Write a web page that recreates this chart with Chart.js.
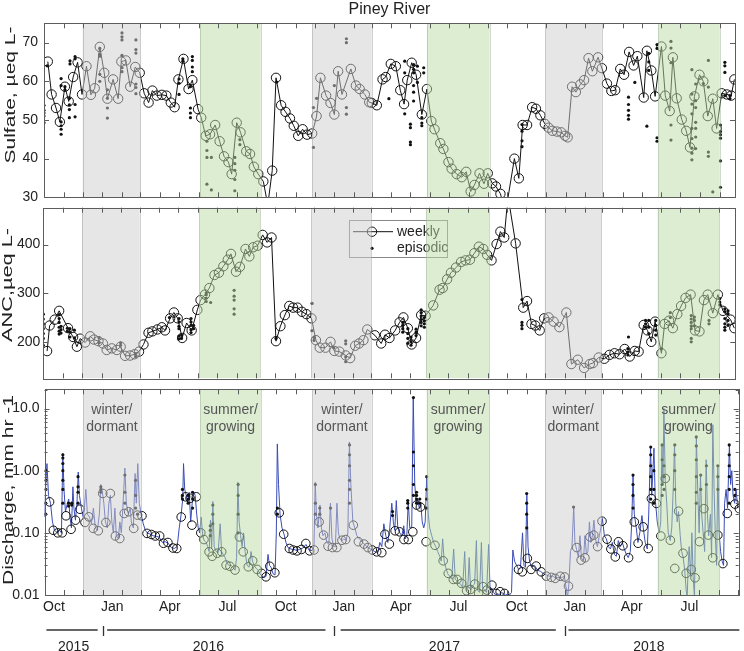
<!DOCTYPE html>
<html><head><meta charset="utf-8">
<script src="https://cdn.jsdelivr.net/npm/chart.js@4/dist/chart.umd.min.js"></script>
<style>
html,body{margin:0;padding:0;background:#fff;}
#wrap{position:relative;width:744px;height:651px;overflow:hidden;background:#fff;}
canvas{position:absolute;left:0;}
</style></head><body>
<div id="wrap">
<canvas id="c1" width="744" height="203" style="top:0px"></canvas>
<canvas id="c2" width="744" height="182" style="top:202px"></canvas>
<canvas id="c3" width="744" height="267" style="top:384px"></canvas>
</div>
<script>
// ---------- DATA (x = days since 1 Oct 2015) ----------
const seasonKind  = ['winter','summer','winter','summer','winter','summer'];
const seasonStart = [61, 246, 423, 604, 791, 969];
const seasonEnd   = [152, 342, 517, 703, 880, 1066];
const seasonText  = {winter:['winter/','dormant'], summer:['summer/','growing']};

const yearNames     = ['2015','2016','2017','2018'];
const yearLabelDays = [46, 259, 632, 955];
const yearSegStart  = [3, 99, 468, 828];
const yearSegEnd    = [84, 444, 808, 1098];
const yearBreakDays = [92, 458, 823];

// Sulfate, weekly
const sulfateDays = [6,12,19,25,33,39,46,53,60,67,74,80,88,95,100,109,117,122,129,136,144,151,158,165,171,178,186,193,200,206,212,220,228,234,243,248,255,262,270,277,284,291,296,304,310,319,325,331,338,346,353,360,366,374,381,388,394,401,408,415,423,430,436,445,452,458,464,470,484,492,498,506,513,517,525,534,539,547,555,562,568,573,580,587,596,604,611,616,625,630,638,643,651,659,666,673,679,687,694,700,707,713,720,728,742,749,755,762,770,776,783,790,796,802,809,816,822,826,833,839,846,852,859,865,874,880,888,895,901,909,915,923,930,936,946,951,958,964,974,980,987,992,998,1006,1013,1019,1026,1034,1040,1047,1055,1061,1069,1077,1084,1089];
const sulfateWeekly = [65.1,56.6,53.1,49.5,58.6,54.8,61.1,64.9,56.6,63.9,56.5,58.2,68.9,62.2,55.5,60.5,55.5,65.1,65.4,58.6,63.7,62.2,56.9,54.5,57.6,56.3,56.5,56.3,54.5,53.3,60.5,65.8,58.0,60.3,52.8,50.6,45.9,46.3,48.7,44.5,40.6,39.1,36.0,49.3,46.8,41.9,41.2,37.9,36.0,34.1,28,36.9,60.9,53.8,52.1,50.4,48.5,45.9,47.6,46.2,46.5,51.0,60.9,56.3,54.4,51.4,62.6,56.6,63.2,58.9,58.0,56.6,54.6,54.4,53.8,60.5,61.1,64.5,63.9,57.7,54.1,60.3,64.8,61.7,51.4,58.0,49.7,47.6,44.0,42.5,39.1,37.4,36.0,35.2,36.6,31.5,33.2,36.2,33.5,36.2,33.6,32.8,30.9,26,40.0,34.9,48.7,48.7,53.3,52.9,51.2,49.0,48.0,47.2,47.0,46.8,45.9,45.5,58.6,57.2,59.2,60.3,66.0,62.6,66.2,63.4,59.4,57.5,57.7,63.2,61.7,67.6,64.1,66.5,55.8,67.9,62.8,56.1,69.0,56.3,52.3,66.2,55.6,50.1,47.2,42.9,56.1,61.7,60.0,51.0,55.5,47.8,56.9,56.6,56.3,60.5];
// Sulfate, episodic
const sulfateEpDays = [0,0,0,0,0,5,27,27,27,27,27,27,33,33,40,40,40,40,41,41,49,49,49,49,88,88,88,88,88,100,100,100,100,123,123,123,123,123,123,145,145,145,145,145,145,213,213,213,219,219,231,231,231,231,234,234,234,234,257,257,257,257,264,264,301,301,301,301,301,309,309,367,425,425,430,458,477,477,477,477,544,569,569,569,578,578,578,578,583,583,583,583,583,583,589,589,596,596,596,599,599,754,754,754,754,922,922,922,922,922,932,951,954,954,954,967,967,967,967,989,989,989,989,989,1022,1022,1022,1022,1022,1022,1022,1022,1022,1028,1028,1028,1028,1028,1028,1028,1040,1048,1048,1048,1048,1055,1067,1067,1067,1067,1067,1067,1074,1074,1074,1074,1082,1082];
const sulfateEpVals = [53.8,52.5,51.8,51,49.3,64.0,60.7,58.9,49.5,48.5,47.6,46.3,58.6,57.8,55.6,53.9,52.7,50.6,65.3,64.5,66.4,65.8,54.0,50.8,68.5,67.0,66.5,61.8,60.0,57.8,55.6,53.1,50.5,72.5,71.5,70.7,66.7,63.5,62.5,70.7,68.2,67.3,59.3,58.4,56.8,60.6,59.5,56.6,65.8,65.2,58.6,53.1,51.8,50.6,66.4,65.4,63.7,62.5,44.5,42.1,40.3,33.4,40.3,31.9,40.3,38.7,37.0,34.6,31.7,44.9,43.6,59.8,53.2,42.9,55.6,58.9,71.0,70.0,53.2,51.5,55.5,65.2,62.2,51.6,48.9,48.0,44.3,43.6,64.3,63.1,62.2,58.9,57.2,54.9,63.9,59.7,50.6,49.2,48.5,63.5,62.2,48.8,47.1,44.6,43.1,55.9,54.0,52.5,51.2,50.2,59.7,48.4,67.2,65.0,62.8,45.4,44.5,69.5,68.5,70.3,68.6,64.8,48.7,44.8,63.0,56.7,54.1,51.6,47.8,45.2,42.7,41.4,39.7,59.3,55.0,53.2,49.4,47.8,45.6,42.6,59.4,65.4,58.5,41.7,40.6,31.4,48.7,47.0,46.2,45.3,39.4,32.6,64.9,64.0,62.3,56.3,56.3,55.5];

// ANC, weekly
const ancDays = [6,10,18,25,39,47,53,58,66,74,80,87,94,100,108,116,122,129,137,144,151,158,166,172,180,187,192,200,206,212,219,226,234,243,248,255,262,270,277,284,291,296,304,310,319,325,331,338,346,353,360,367,374,381,388,394,401,408,415,423,430,436,445,453,459,467,477,484,492,498,505,511,523,533,539,546,555,562,568,575,581,588,596,603,615,625,630,637,643,651,659,666,673,680,687,694,700,707,715,721,727,733,745,757,763,770,776,783,790,797,805,814,825,833,843,853,862,867,876,885,893,901,909,917,925,933,939,947,953,959,965,975,980,987,993,1000,1006,1013,1021,1028,1035,1042,1048,1056,1064,1072,1084,1090];
const ancWeekly = [181,233.6,245.7,263.8,228.2,210,190,206.6,198.6,211.4,204.7,201.4,196.6,183.3,186.6,183.3,190,171.2,171.8,174.5,179.9,194.6,218.7,221.5,225.5,230,223.5,248.3,260.4,248.3,208,238.8,223.5,265.8,285.9,297.2,310.7,337.5,342.2,355.5,369,381,344.3,354.3,391.1,375.7,394.6,397.8,420,404.6,414.7,201.4,232.2,255,273.8,270.4,270.4,261.8,257,248.3,203.4,188,188,200,181.3,180,172,166.5,192,196.6,203.4,225.5,213.5,196.6,214.7,208,223.5,240.2,250.3,228,194.6,208,255,253.7,275,307.2,310.7,328.8,342.2,352.9,364.4,367.6,369,382.5,395.8,391.1,379,367.6,401.2,426.8,414.7,500,402.6,270.4,283.9,236.9,233.6,223.5,248.3,250.3,241.6,230.2,260.4,154.3,163.2,146.3,154.3,156.3,167.8,165.2,173.2,176.5,174.5,185.3,169.8,181.3,179.9,234.8,223.5,200,241.6,176.5,236.9,243.6,228.2,257,273.8,290.5,297.2,223.5,221.5,285.9,297.2,259,297.2,263.8,245.7,228.2];
// ANC, episodic
const ancEpDays = [0,0,0,0,0,0,0,25,25,25,25,25,25,28,28,28,38,38,42,42,42,49,49,88,88,122,122,146,146,199,214,214,214,214,214,214,218,218,233,233,233,233,233,237,237,257,257,257,257,264,301,301,301,301,301,367,424,424,427,427,458,477,477,477,477,567,567,567,567,575,575,575,575,580,580,580,588,588,588,596,596,596,596,596,596,601,601,601,601,755,755,755,755,923,922,922,922,950,950,950,955,955,955,966,966,966,966,975,989,989,1022,1022,1022,1022,1022,1022,1022,1027,1027,1027,1050,1050,1067,1067,1067,1075,1075,1075,1075,1075,1075,1080,1080,1080,1080];
const ancEpVals = [257,247,237,227,217,207,193,256,248,240,230,222,216,232,225,218,228,222,227,220,210,224,208,208,198,198,193,176,170,250,248,241,232,227,212,206,214,207,248,241,234,225,219,234,227,301,297,290,283,281,306,294,286,268,257,207,279,223,209,203,188,202,196,169,159,240,234,227,220,227,217,207,197,210,200,193,226,220,213,266,260,253,246,240,233,250,243,237,230,287,240,234,227,210,186,179,173,244,237,230,244,230,217,244,234,224,214,186,260,250,254,247,240,233,227,207,200,251,244,233,244,237,289,282,276,268,262,248,237,230,224,264,258,244,234];

// Discharge, weekly (mm/hr)
const qWeeklyDays = [8,14,21,28,34,42,49,56,64,70,77,85,92,97,104,112,119,126,133,141,147,154,162,169,175,182,188,195,203,209,216,223,230,233,240,247,252,260,265,273,280,287,293,301,308,314,322,329,336,343,350,356,364,371,378,387,393,399,406,413,419,426,434,441,448,455,462,470,476,488,496,505,511,518,525,533,538,545,554,561,568,575,582,588,594,603,617,630,638,646,652,659,667,673,680,686,693,699,707,714,720,727,749,755,763,769,777,785,793,801,807,815,822,828,841,848,854,862,868,874,881,889,895,902,907,914,923,932,938,946,954,959,967,974,981,989,996,1002,1009,1014,1022,1028,1035,1042,1049,1056,1064,1072,1079,1091,1098];
const qWeekly = [0.315,0.11,0.1,0.1,0.188,0.114,0.16,0.24,0.147,0.181,0.118,0.108,0.43,0.147,0.43,0.089,0.081,0.205,0.218,0.118,0.193,0.188,0.098,0.094,0.089,0.089,0.068,0.07,0.057,0.056,0.18,0.38,0.36,0.133,0.38,0.1,0.078,0.0495,0.042,0.047,0.0495,0.0303,0.029,0.0252,0.086,0.0495,0.0284,0.0355,0.0258,0.0223,0.0196,0.029,0.0228,0.21,0.095,0.056,0.053,0.0513,0.054,0.0675,0.0513,0.053,0.15,0.092,0.061,0.058,0.058,0.076,0.078,0.133,0.072,0.066,0.058,0.053,0.0495,0.048,0.095,0.066,0.108,0.104,0.078,0.078,0.104,0.28,0.26,0.072,0.063,0.0355,0.0223,0.0178,0.0178,0.0154,0.0117,0.0123,0.015,0.0106,0.0136,0.012,0.0144,0.0106,0.0113,0.0106,0.0258,0.0236,0.0388,0.0258,0.0292,0.0236,0.0201,0.0192,0.0185,0.02,0.0195,0.0139,0.058,0.0364,0.0397,0.086,0.092,0.06,0.154,0.079,0.055,0.041,0.072,0.062,0.0397,0.15,0.068,0.125,0.056,0.356,0.297,0.089,0.75,0.076,0.0268,0.223,0.047,0.0223,0.0258,0.0189,0.072,0.245,0.092,0.0397,0.092,0.032,0.205,0.29,0.245];
// Discharge, episodic
const qEpDays = [2,2,2,2,2,29,29,29,29,29,29,29,38,38,43,43,53,53,53,53,89,89,89,127,127,127,144,144,144,147,218,218,218,227,227,227,234,234,234,262,262,262,266,266,266,306,306,306,306,368,368,428,428,428,435,435,452,482,482,482,482,482,482,550,550,574,574,574,583,583,583,583,583,588,588,588,588,593,593,604,604,604,604,762,762,762,762,836,930,930,930,930,958,958,958,958,958,958,963,963,963,976,976,976,976,979,979,979,996,996,996,996,1030,1030,1030,1030,1030,1030,1037,1037,1046,1046,1064,1064,1064,1082,1082,1082,1082,1082,1082,1091,1091];
const qEpVals = [0.2,0.3,0.5,0.7,1.0,0.3,0.5,0.7,1.0,1.3,1.6,1.8,0.27,0.3,0.3,0.28,0.3,0.45,0.55,0.8,0.45,0.5,0.55,0.3,0.45,0.85,0.25,0.4,0.7,0.2,0.35,0.4,0.5,0.3,0.35,0.4,0.25,0.35,0.45,0.09,0.11,0.13,0.14,0.2,0.28,0.1,0.2,0.4,0.6,0.2,0.25,0.2,0.3,0.6,0.2,0.25,0.25,0.3,0.5,0.7,1.2,1.8,2.6,0.19,0.22,0.25,0.3,0.33,0.4,0.6,1.2,2.0,15,0.3,0.35,0.4,0.45,0.3,0.35,0.25,0.35,0.5,0.8,0.12,0.2,0.3,0.43,0.26,0.25,0.4,0.6,0.85,0.35,0.5,0.8,1.2,1.8,2.4,0.3,0.5,1.0,0.4,0.6,1.5,2.6,0.5,0.8,1.2,0.5,1.0,1.8,2.6,0.3,0.45,0.8,1.5,2.5,3.5,0.5,0.85,0.6,1.2,0.5,0.8,1.2,0.3,0.5,0.8,1.2,1.8,2.6,0.4,0.5];
// Discharge, continuous record
const qDays = [
0,1.6,3.9,6.3,9.5,12.6,15.8,20.5,23.7,26.8,
28.9,30.8,33.1,36.3,38.3,40.2,42.6,44.9,46.5,48.9,
51.3,53.3,55.2,58.3,61.5,65.4,67.8,71,74.1,77.3,
80.4,83.6,86.7,89.1,91.5,93.8,96.2,99.3,101.7,104.1,
106.4,108.8,111.2,113.5,116.7,119.1,121.4,123.8,127,129.3,
132.5,135.6,137.2,140.4,143.2,145.1,147.4,149.8,153,156.1,
159.3,162.4,167.2,171.9,176.6,181.4,186.1,190.8,195.5,200.3,
205,209.7,212.9,216,218.4,219.7,221.6,224,226.3,228.7,
231,233.4,235.8,238.1,240.5,242.9,245.2,247.6,250,252.3,
255.5,257.8,260.2,262.3,264.1,266,268.1,271.2,274.4,277.6,
279.9,282.3,285.4,288.6,291.7,294.9,298,301.2,303.6,305.6,
307.5,309.9,312.2,314.6,317,320.1,323.3,326.4,328.8,331.2,
334.3,337.5,340.6,343.8,346.9,350.1,353.2,355.6,358,361.2,
364.3,366.3,367.9,369.8,372.2,375.3,378.5,381.6,384.8,389.5,
394.3,399,403.7,408.4,413.2,417.9,422.6,425.8,427.8,429.7,
432.1,435.3,437.6,440,443.1,446.3,449.4,451.8,454.2,457.3,
459.7,462.1,464.4,466.8,470,473.1,476.3,479.4,481.8,484.1,
487.3,490.4,493.6,498.3,503,507.8,512.5,517.3,522,526.7,
529.9,533,536.2,539.3,542.5,545.6,548.8,551.2,553.5,555.9,
558.3,561.4,564.6,567.7,570.1,572.5,574.8,577.2,580.3,582.7,
585.1,587.4,589.8,592.2,594.5,596.9,599.3,601.6,604,606.4,
608.7,611.9,615,618.2,621.3,624.5,626.9,629.2,631.6,634,
637.1,640.3,643.4,646.6,649,651.3,654.5,657.6,660.8,664,
666.3,668.7,671.1,673.4,676.6,679.7,682.5,684.4,687.6,690.4,
692.3,695.5,698.6,701.8,704.1,706.5,709.7,712.8,716,719.1,
722.3,725.4,728.6,731.7,734.9,738,740.1,742.8,745.9,749.1,
752.2,755.4,757.7,760.1,762.2,764.1,766.5,769.6,774.3,779.1,
783.8,788.5,793.2,798,802.7,807.4,812.2,816.9,821.6,824.8,
826.4,828.7,831.1,833.5,836.3,838.2,840.6,843.7,846.1,848.5,
851.6,854,856.4,858.7,861.1,863.5,865.8,868.2,870.6,873.7,
876.8,879.2,881.6,884.7,887.9,891,894.2,897.3,900.5,903.6,
906.8,909.9,913.1,916.2,919.4,922.5,925.7,928,930,932,
935.2,937.8,940.7,944.1,946.2,949.3,952.5,954.8,957.7,959.6,
963.1,965.1,968.3,971.4,973.8,975.7,977.3,978.8,980.9,983.3,
985.6,988.8,991.2,993.5,995.6,997.5,999.8,1001.9,1004.6,1006.9,
1009.3,1011.7,1014,1015.6,1017.2,1018.7,1021.1,1023,1025,1027.1,
1029,1030.1,1032.2,1034.5,1036.6,1038.5,1040.8,1043.2,1045.6,1047.6,
1049.5,1052.3,1054.2,1056.1,1058.1,1060.2,1062.1,1064,1066,1068.4,
1070.8,1073.1,1074.7,1077.1,1079.4,1082.3,1084.2,1086.1,1088.1,1090.5,
1092.8,1095.5,1097.5];
const qFlow = [
0.18,0.5,1.3,0.4,0.3,0.15,0.11,0.1,0.11,0.1,
1.9,0.5,0.22,0.3,0.35,0.18,0.12,0.55,0.25,0.16,
0.3,0.95,0.4,0.25,0.17,0.5,0.2,0.18,0.14,0.25,
0.12,0.11,0.2,0.6,0.45,0.3,0.15,0.12,0.3,0.4,
0.15,0.1,0.25,0.09,0.08,0.15,0.1,0.25,1.1,0.3,
0.2,0.25,0.15,0.12,0.9,0.3,1.3,0.3,0.19,0.14,
0.11,0.1,0.095,0.09,0.088,0.085,0.07,0.072,0.068,0.058,
0.056,0.06,0.12,0.2,0.35,1.3,0.5,0.4,0.3,0.45,
0.15,0.3,0.45,0.4,0.2,0.12,0.1,0.18,0.09,0.075,
0.07,0.06,0.05,0.16,0.055,0.32,0.06,0.05,0.048,0.14,
0.05,0.045,0.04,0.032,0.03,0.03,0.028,0.025,0.04,0.65,
0.15,0.09,0.06,0.1,0.05,0.03,0.028,0.05,0.035,0.03,
0.027,0.025,0.022,0.02,0.019,0.02,0.045,0.03,0.028,0.022,
0.021,0.1,2.7,0.6,0.2,0.12,0.095,0.07,0.058,0.055,
0.054,0.052,0.055,0.057,0.065,0.053,0.052,0.06,0.65,0.2,
0.12,0.28,0.12,0.09,0.1,0.07,0.065,0.3,0.08,0.06,
0.06,0.3,0.1,0.08,0.075,0.08,0.075,0.1,2.9,0.6,
0.15,0.12,0.09,0.078,0.07,0.062,0.057,0.053,0.05,0.048,
0.07,0.06,0.14,0.09,0.07,0.12,0.3,0.15,0.11,0.33,
0.12,0.1,0.09,0.13,0.08,0.09,0.32,0.12,0.12,15,
0.6,0.3,0.35,0.25,0.3,0.15,0.12,0.15,0.8,0.2,
0.12,0.09,0.07,0.06,0.05,0.042,0.035,0.08,0.035,0.028,
0.022,0.02,0.018,0.055,0.018,0.017,0.016,0.015,0.013,0.05,
0.012,0.012,0.04,0.012,0.014,0.015,0.075,0.012,0.011,0.07,
0.013,0.012,0.011,0.065,0.012,0.013,0.011,0.01,0.0105,0.01,
0.011,0.0105,0.01,0.0102,0.01,0.011,0.053,0.035,0.03,0.026,
0.028,0.1,0.03,0.028,0.43,0.06,0.035,0.028,0.03,0.025,
0.024,0.022,0.021,0.02,0.02,0.019,0.019,0.019,0.02,0.012,
0.009,0.015,0.05,0.06,0.26,0.07,0.055,0.04,0.09,0.04,
0.035,0.09,0.045,0.05,0.15,0.07,0.09,0.16,0.08,0.06,
0.09,0.12,0.17,0.09,0.08,0.06,0.055,0.07,0.045,0.042,
0.075,0.06,0.07,0.055,0.045,0.04,0.05,0.15,0.85,0.2,
0.12,0.07,0.1,0.19,0.12,0.07,0.055,0.2,2.4,0.4,
2.3,0.35,0.15,0.1,0.15,2.6,0.6,10,0.7,0.3,
0.1,0.075,0.12,0.5,2.6,0.3,0.15,0.22,0.09,0.05,
0.04,0.025,0.012,0.009,0.03,0.06,0.02,0.1,0.02,0.009,
0.3,3.5,0.5,0.1,0.85,0.2,0.1,0.05,1.5,0.2,
0.09,0.2,0.04,5.5,0.5,0.08,0.03,1.2,0.1,0.05,
0.035,0.03,0.3,0.5,0.25,2.6,0.6,1.0,0.4,0.3,
0.5,0.25,0.27];

const sulfateTicks = [30,40,50,60,70];
const ancTicks = [200,300,400];
const qTicks = [0.01,0.1,1,10];
const qTickLabels = ['0.01','0.10','1.00','10.0'];
const monthNames = ['Jan','Feb','Mar','Apr','May','Jun','Jul','Aug','Sep','Oct','Nov','Dec'];
const labelledMonths = [0,3,6,9];

// ---------- helpers ----------
const FONT = '"Liberation Sans", Arial, Helvetica, sans-serif';
Chart.defaults.font.family = FONT;
Chart.defaults.font.size = 14;
Chart.defaults.color = '#222';

const base = Date.UTC(2015,9,1);
const monthStarts = [], monthLabel = {};
for (let m = 0; m <= 37; m++) {
  const d = Math.round((Date.UTC(2015, 9 + m, 1) - base) / 864e5);
  const mi = (9 + m) % 12;
  monthStarts.push(d);
  monthLabel[d] = (labelledMonths.includes(mi) && d < 1070) ? monthNames[mi] : '';
}
const pts = (xs, ys) => xs.map((x, i) => ({x, y: ys[i]}));
const minorLog = [];
[0.01,0.1,1,10].forEach(d => { for (let k = 2; k <= 9; k++) minorLog.push(d*k); });

function line(ctx, x1, y1, x2, y2) { ctx.beginPath(); ctx.moveTo(x1, y1); ctx.lineTo(x2, y2); ctx.stroke(); }

const decor = {
  id: 'decor',
  afterDatasetsDraw(chart) {
    const o = chart.options.plugins.decor, ctx = chart.ctx, a = chart.chartArea, xs = chart.scales.x;
    ctx.save();
    ctx.beginPath(); ctx.rect(a.left, a.top, a.right - a.left, a.bottom - a.top); ctx.clip();
    if (o.legend) {
      const L = o.legend;
      ctx.fillStyle = '#fff'; ctx.fillRect(L.x, L.y, L.w, L.h);
      ctx.strokeStyle = '#888'; ctx.lineWidth = 1; ctx.strokeRect(L.x + 0.5, L.y + 0.5, L.w, L.h);
      ctx.strokeStyle = '#111';
      line(ctx, L.x + 4, L.y + 11.7, L.x + 44, L.y + 11.7);
      ctx.beginPath(); ctx.arc(L.x + 23, L.y + 11.7, 4.7, 0, Math.PI * 2); ctx.stroke();
      ctx.fillStyle = '#111';
      ctx.beginPath(); ctx.arc(L.x + 23, L.y + 28.3, 1.6, 0, Math.PI * 2); ctx.fill();
      ctx.font = '14px ' + FONT; ctx.textBaseline = 'middle'; ctx.textAlign = 'left';
      ctx.fillStyle = '#222';
      ctx.fillText('weekly', L.x + 48, L.y + 12);
      ctx.fillText('episodic', L.x + 48, L.y + 28.5);
    }
    seasonStart.forEach((s, i) => {
      const x1 = xs.getPixelForValue(s), x2 = xs.getPixelForValue(seasonEnd[i]);
      const w = seasonKind[i] === 'winter';
      ctx.fillStyle = w ? 'rgba(205,205,205,0.5)' : 'rgba(185,219,165,0.5)';
      ctx.fillRect(x1, a.top, x2 - x1, a.bottom - a.top);
      ctx.strokeStyle = w ? 'rgba(150,150,150,0.45)' : 'rgba(150,170,140,0.45)';
      ctx.lineWidth = 1;
      line(ctx, Math.round(x1) + 0.5, a.top, Math.round(x1) + 0.5, a.bottom);
      line(ctx, Math.round(x2) + 0.5, a.top, Math.round(x2) + 0.5, a.bottom);
      if (o.seasonText) {
        const t = seasonText[seasonKind[i]], cx = (x1 + x2) / 2;
        ctx.fillStyle = '#555'; ctx.font = '14px ' + FONT; ctx.textAlign = 'center'; ctx.textBaseline = 'middle';
        ctx.fillText(t[0], cx, a.top + 21);
        ctx.fillText(t[1], cx, a.top + 38);
      }
    });
    ctx.restore();
  },
  afterDraw(chart) {
    const o = chart.options.plugins.decor, ctx = chart.ctx, a = chart.chartArea, xs = chart.scales.x, ys = chart.scales.y;
    ctx.save();
    ctx.strokeStyle = '#5c5c5c'; ctx.lineWidth = 1;
    monthStarts.forEach(d => {
      if (d <= xs.min || d >= xs.max) return;
      const px = Math.round(xs.getPixelForValue(d)) + 0.5;
      line(ctx, px, a.top, px, a.top + 5);
      line(ctx, px, a.bottom, px, a.bottom - 5);
    });
    o.yMajor.forEach(v => {
      const py = Math.round(ys.getPixelForValue(v)) + 0.5;
      if (py < a.top || py > a.bottom) return;
      line(ctx, a.left, py, a.left + 5, py); line(ctx, a.right, py, a.right - 5, py);
    });
    (o.yMinor || []).forEach(v => {
      const py = Math.round(ys.getPixelForValue(v)) + 0.5;
      if (py < a.top || py > a.bottom) return;
      line(ctx, a.left, py, a.left + 3, py); line(ctx, a.right, py, a.right - 3, py);
    });
    ctx.strokeRect(Math.round(a.left) + 0.5, Math.round(a.top) + 0.5, Math.round(a.right - a.left), Math.round(a.bottom - a.top));
    const T = o.yTitle;
    ctx.save();
    ctx.translate(T.x, T.y); ctx.rotate(-Math.PI / 2);
    ctx.font = '14px ' + FONT;
    const w = ctx.measureText(T.text).width;
    ctx.scale(T.len / w, 1);
    ctx.fillStyle = '#222'; ctx.textAlign = 'center'; ctx.textBaseline = 'middle';
    ctx.fillText(T.text, 0, 0);
    ctx.restore();
    if (o.title) {
      ctx.font = '16px ' + FONT; ctx.fillStyle = '#222'; ctx.textAlign = 'center'; ctx.textBaseline = 'middle';
      ctx.fillText(o.title, (a.left + a.right) / 2, 10);
    }
    if (o.years) {
      const yl = o.years.lineY, yt = o.years.textY;
      ctx.strokeStyle = '#333'; ctx.lineWidth = 1.3;
      yearSegStart.forEach((s, i) => {
        line(ctx, xs.getPixelForValue(s), yl, Math.min(xs.getPixelForValue(yearSegEnd[i]), chart.width), yl);
      });
      yearBreakDays.forEach(d => { const px = Math.round(xs.getPixelForValue(d)) + 0.5; line(ctx, px, yl - 4, px, yl + 6); });
      ctx.font = '14px ' + FONT; ctx.fillStyle = '#222'; ctx.textAlign = 'center'; ctx.textBaseline = 'middle';
      yearNames.forEach((n, i) => ctx.fillText(n, xs.getPixelForValue(yearLabelDays[i]), yt));
    }
    ctx.restore();
  }
};

function zeroPad(s) { s.paddingTop = 0; s.paddingBottom = 0; s.paddingLeft = 0; s.paddingRight = 0; }

function makeOptions(cfg) {
  return {
    responsive: false, animation: false, events: [],
    layout: {padding: cfg.pad},
    plugins: {legend: {display: false}, tooltip: {enabled: false}, title: {display: false}, decor: cfg.decor},
    scales: {
      x: {
        type: 'linear', min: 0, max: cfg.xmax, display: cfg.showX,
        grid: {display: false, drawTicks: false}, border: {display: false},
        ticks: {autoSkip: false, maxRotation: 0, minRotation: 0, padding: 4, labelOffset: 9.5,
                color: '#222', font: {size: 14}, callback: v => monthLabel[v] ?? ''},
        afterBuildTicks: s => { s.ticks = monthStarts.filter(d => d >= 0 && d <= cfg.xmax).map(v => ({value: v})); },
        afterFit: s => { zeroPad(s); if (cfg.showX) s.height = cfg.xHeight; }
      },
      y: {
        type: cfg.ytype, min: cfg.ymin, max: cfg.ymax,
        grid: {display: false, drawTicks: false}, border: {display: false},
        ticks: {padding: cfg.tickPad, color: '#222', font: {size: 14}, autoSkip: false,
                callback: cfg.ylabel},
        afterBuildTicks: s => { s.ticks = cfg.yticks.map(v => ({value: v})); },
        afterFit: s => { zeroPad(s); s.width = cfg.yWidth; }
      }
    }
  };
}

const weeklyStyle = {borderColor: '#111', borderWidth: 1, pointRadius: 4.7, pointBorderWidth: 1,
  pointBorderColor: '#111', pointBackgroundColor: 'rgba(0,0,0,0)', pointStyle: 'circle', tension: 0};
const epStyle = {showLine: false, pointRadius: 1.6, pointBorderWidth: 0, pointBackgroundColor: '#111', borderColor: '#111'};

new Chart(document.getElementById('c1'), {
  type: 'line',
  data: {datasets: [
    Object.assign({label: 'episodic', data: pts(sulfateEpDays, sulfateEpVals)}, epStyle),
    Object.assign({label: 'weekly', data: pts(sulfateDays, sulfateWeekly)}, weeklyStyle)
  ]},
  options: makeOptions({pad: {left: 0, right: 9, top: 23.3, bottom: 2}, xmax: 1090, showX: false,
    ytype: 'linear', ymin: 30, ymax: 75, yticks: sulfateTicks, ylabel: v => String(v), tickPad: 6, yWidth: 44,
    decor: {yMajor: sulfateTicks, yTitle: {text: 'Sulfate, µeq L-', x: 11, y: 95, len: 137}, title: 'Piney River'}}),
  plugins: [decor]
});

new Chart(document.getElementById('c2'), {
  type: 'line',
  data: {datasets: [
    Object.assign({label: 'episodic', data: pts(ancEpDays, ancEpVals)}, epStyle),
    Object.assign({label: 'weekly', data: pts(ancDays, ancWeekly)}, weeklyStyle)
  ]},
  options: makeOptions({pad: {left: 0, right: 8.7, top: 5.7, bottom: 1.7}, xmax: 1091.5, showX: false,
    ytype: 'linear', ymin: 125, ymax: 476, yticks: ancTicks, ylabel: v => String(v), tickPad: 3, yWidth: 43.3,
    decor: {yMajor: ancTicks, yTitle: {text: 'ANC,µeq L-', x: 8, y: 83, len: 114},
            legend: {x: 349, y: 18, w: 98, h: 37}}}),
  plugins: [decor]
});

new Chart(document.getElementById('c3'), {
  type: 'line',
  data: {datasets: [
    Object.assign({label: 'episodic', data: pts(qEpDays, qEpVals)}, epStyle),
    Object.assign({label: 'weekly', data: pts(qWeeklyDays, qWeekly)}, weeklyStyle, {showLine: false, pointRadius: 4.3}),
    {label: 'continuous', data: pts(qDays, qFlow), borderColor: '#3a4cb5', borderWidth: 1, pointRadius: 0, tension: 0}
  ]},
  options: makeOptions({pad: {left: 0, right: 4, top: 5, bottom: 0}, xmax: 1097, showX: true, xHeight: 56,
    ytype: 'logarithmic', ymin: 0.01, ymax: 20.4, yticks: qTicks,
    ylabel: v => { const i = qTicks.findIndex(t => Math.abs(t - v) < t * 1e-6); return i >= 0 ? qTickLabels[i] : ''; },
    tickPad: 5, yWidth: 44.5,
    decor: {yMajor: qTicks, yMinor: minorLog, yTitle: {text: 'Discharge, mm hr -1', x: 9, y: 106, len: 190},
            seasonText: true, years: {lineY: 246, textY: 263}}}),
  plugins: [decor]
});
</script>
</body></html>
